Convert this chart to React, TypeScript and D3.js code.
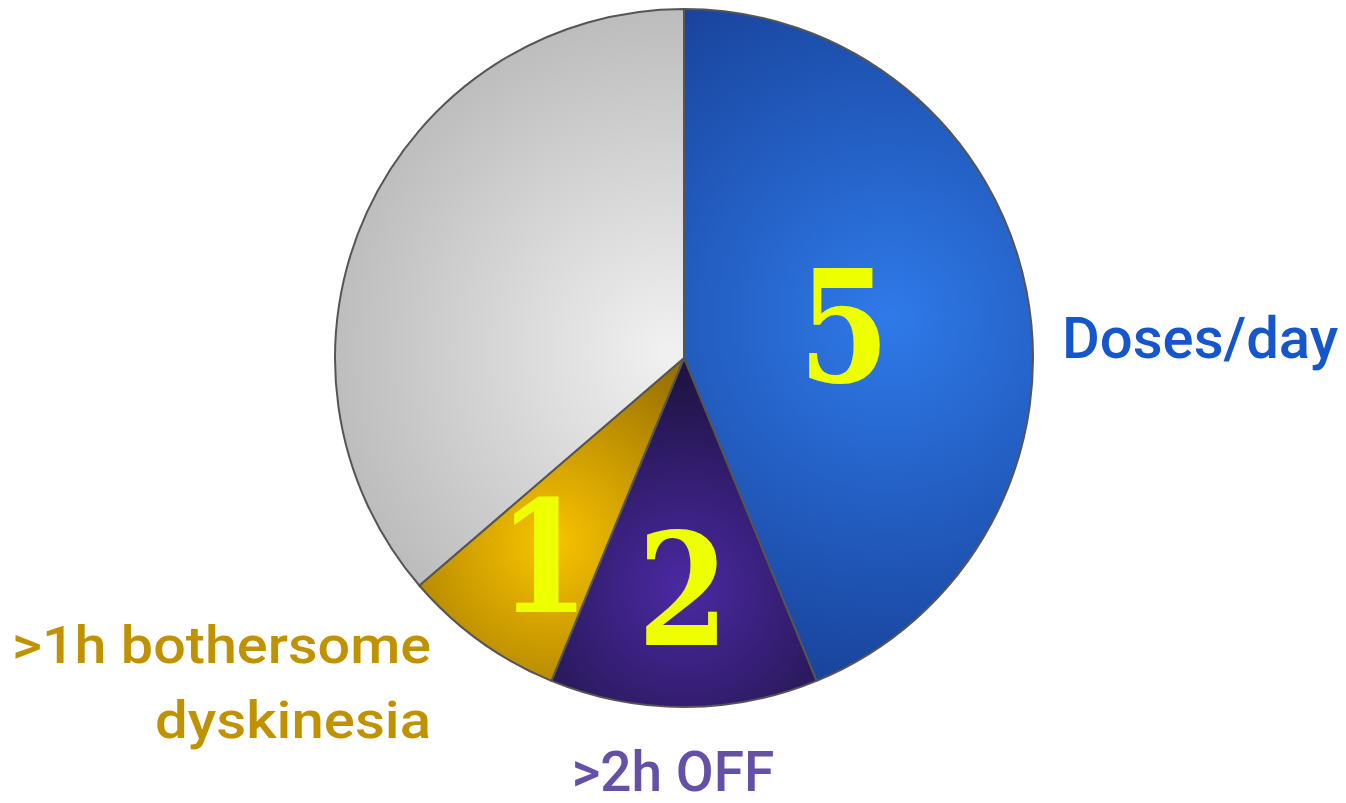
import React from "react";
import * as d3 from "d3";

// 5-2-1 criteria pie
const categories = ["Doses/day", ">2h OFF", ">1h bothersome dyskinesia", "rest"];
const shares = [43.8, 12.4, 7.5, 36.3];
const badges = ["5", "2", "1", ""];
const labelLines = [["Doses/day"], [">2h OFF"], [">1h bothersome", "dyskinesia"], []];

const W = 1346;
const H = 803;
const cx = 684;
const cy = 358;
const R = 349;

// gradient stops per slice: [inner, outer]
const fills = [
  ["#2f7ae9", "#18429a"],
  ["#4b29a3", "#1f1444"],
  ["#f9c400", "#9a7000"],
  ["#f1f1f1", "#b3b3b3"],
];
const gradRadius = [380, 210, 210, 400];
const gradAt = [0.6, 0.66, 0.65, 0.05];
const textColors = ["#1656cc", "#6550a8", "#c19200", "#000"];

// label placement (polar, degrees from top, px from centre) + anchor
const labelPolar = [
  { a: 90, d: R + 29, anchor: "start", size: 58, width: [0] },
  { a: 181.45, d: R + 84, anchor: "middle", size: 55, width: [0] },
  { a: 219.7, d: R + 47, anchor: "end", size: 52, width: [419, 276] },
];
// baseline-centre of the big numbers
const badgePolar = [
  { a: 98.5, d: 162 },
  { a: 180.2, d: 287 },
  { a: 208.9, d: 290 },
];

const polar = (a: number, d: number) => {
  const t = (a * Math.PI) / 180;
  return [cx + d * Math.sin(t), cy - d * Math.cos(t)];
};

export default function App() {
  const pie = d3
    .pie<number>()
    .sort(null)
    .value((d) => d)(shares);
  const arc = d3.arc<d3.PieArcDatum<number>>().innerRadius(0).outerRadius(R);

  return (
    <svg
      width={W}
      height={H}
      viewBox={`0 0 ${W} ${H}`}
      style={{ position: "absolute", left: 0, top: 0, background: "#fff" }}
    >
      <defs>
        {pie.map((p, i) => {
          const mid = (p.startAngle + p.endAngle) / 2;
          const gx = R * gradAt[i] * Math.sin(mid);
          const gy = -R * gradAt[i] * Math.cos(mid);
          return (
            <radialGradient
              key={i}
              id={`g${i}`}
              gradientUnits="userSpaceOnUse"
              cx={gx}
              cy={gy}
              r={gradRadius[i]}
            >
              <stop offset="0" stopColor={fills[i][0]} />
              <stop offset="1" stopColor={fills[i][1]} />
            </radialGradient>
          );
        })}
      </defs>
      <g transform={`translate(${cx},${cy})`}>
        {pie.map((p, i) => (
          <path
            key={categories[i]}
            d={arc(p) || ""}
            fill={`url(#g${i})`}
            stroke="#555"
            strokeWidth={2}
            strokeLinejoin="round"
          />
        ))}
      </g>

      {/* big numbers */}
      {badgePolar.map((b, i) => {
        const [x, y] = polar(b.a, b.d);
        return (
          <text
            key={`b${i}`}
            x={x}
            y={y}
            textAnchor="middle"
            fontFamily="'DejaVu Serif', serif"
            fontWeight="bold"
            fontSize={156}
            fill="#eeff00"
            transform={`translate(${x},${y}) scale(0.84,1) translate(${-x},${-y})`}
          >
            {badges[i]}
          </text>
        );
      })}

      {/* outer labels */}
      {labelPolar.map((l, i) => {
        const [x, y] = polar(l.a, l.d);
        return (
          <text
            key={`l${i}`}
            textAnchor={l.anchor as any}
            fontFamily="Roboto, 'Open Sans', sans-serif"
            fontWeight={500}
            fontSize={l.size}
            fill={textColors[i]}
          >
            {labelLines[i].map((line, j) => (
              <tspan
                key={j}
                x={x}
                y={y + j * 75}
                textLength={l.width[j] || undefined}
                lengthAdjust={l.width[j] ? "spacingAndGlyphs" : undefined}
              >
                {line}
              </tspan>
            ))}
          </text>
        );
      })}
    </svg>
  );
}
